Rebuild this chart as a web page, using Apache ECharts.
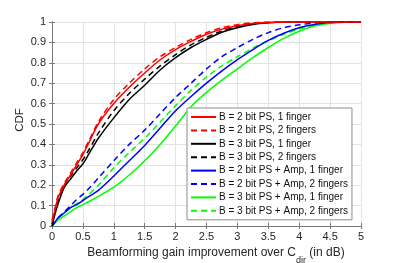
<!DOCTYPE html>
<html><head><meta charset="utf-8">
<script src="https://cdn.jsdelivr.net/npm/echarts@6/dist/echarts.min.js"></script>
<style>html,body{margin:0;padding:0;background:#fff}#c{width:402px;height:263px}</style>
</head><body><div id="c"></div>
<script>
var xs = [0,0.05,0.1,0.2,0.3,0.4,0.5,0.6,0.75,1,1.25,1.5,1.75,2,2.25,2.5,2.75,3,3.25,3.5,3.75,4,4.25,4.5,4.75,5];
var red1   = [0.02,0.08,0.14,0.20,0.25,0.30,0.35,0.41,0.50,0.60,0.68,0.75,0.815,0.865,0.905,0.94,0.965,0.982,0.993,0.998,1,1,1,1,1,1];
var red2   = [0.03,0.09,0.15,0.21,0.26,0.31,0.36,0.42,0.51,0.62,0.70,0.77,0.83,0.875,0.915,0.948,0.972,0.987,0.996,1,1,1,1,1,1,1];
var black1 = [0,0.06,0.11,0.19,0.23,0.27,0.305,0.355,0.43,0.53,0.62,0.69,0.765,0.825,0.875,0.915,0.95,0.972,0.988,0.996,1,1,1,1,1,1];
var black2 = [0.01,0.07,0.12,0.20,0.245,0.285,0.325,0.375,0.455,0.565,0.65,0.72,0.785,0.84,0.888,0.925,0.957,0.978,0.991,0.998,1,1,1,1,1,1];
var blue1  = [0,0.02,0.04,0.065,0.09,0.105,0.125,0.145,0.175,0.245,0.32,0.395,0.48,0.565,0.635,0.70,0.76,0.815,0.865,0.91,0.945,0.972,0.988,0.997,1,1];
var blue2  = [0,0.02,0.04,0.07,0.10,0.13,0.155,0.185,0.235,0.32,0.40,0.47,0.55,0.63,0.70,0.77,0.83,0.875,0.915,0.948,0.972,0.986,0.995,1,1,1];
var green1 = [0,0.015,0.03,0.05,0.07,0.09,0.105,0.12,0.145,0.19,0.25,0.32,0.40,0.49,0.585,0.655,0.715,0.77,0.825,0.875,0.92,0.955,0.98,0.993,0.999,1];
var green2 = [0,0.02,0.04,0.065,0.09,0.11,0.13,0.155,0.20,0.285,0.36,0.43,0.51,0.59,0.665,0.73,0.785,0.83,0.872,0.907,0.94,0.965,0.985,0.995,1,1];
var names = ["B = 2 bit PS, 1 finger","B = 2 bit PS, 2 fingers","B = 3 bit PS, 1 finger","B = 3 bit PS, 2 fingers","B = 2 bit PS + Amp, 1 finger","B = 2 bit PS + Amp, 2 fingers","B = 3 bit PS + Amp, 1 finger","B = 3 bit PS + Amp, 2 fingers"];
var xTicks = [0,0.5,1,1.5,2,2.5,3,3.5,4,4.5,5];
var yTicks = [0,0.1,0.2,0.3,0.4,0.5,0.6,0.7,0.8,0.9,1];

var seriesY = [red1,red2,black1,black2,blue1,blue2,green1,green2];
var colors = ['#ff0000','#ff0000','#000000','#000000','#0000ff','#0000ff','#00ff00','#00ff00'];
var dashed = [false,true,false,true,false,true,false,true];

var chart = echarts.init(document.getElementById('c'), null, {renderer:'canvas'});
var axisCol = '#7a7a7a';
var font = 'Liberation Sans, Arial, sans-serif';
var series = seriesY.map(function(ys,i){
  return {
    name: names[i], type:'line', symbol:'none', smooth:0.3,
    data: xs.map(function(x,j){return [x, ys[j]];}),
    lineStyle:{color:colors[i], width:1.5, type: dashed[i]?[6,4]:'solid'},
    itemStyle:{color:colors[i]},
    z: 10-i, animation:false
  };
});
var option = {
  animation:false,
  grid:{left:52,right:41,top:22,bottom:37},
  xAxis:[{
    type:'value', min:0, max:5, interval:0.5, position:'bottom',
    axisLine:{show:true,lineStyle:{color:axisCol,width:1}},
    axisTick:{show:true,inside:true,length:3,lineStyle:{color:axisCol}},
    axisLabel:{color:'#262626',fontSize:11,fontFamily:font,margin:5,
      formatter:function(v){return xTicks.indexOf(v)>=0?String(v):'';}},
    splitLine:{show:true,lineStyle:{color:'#e3e3e3',width:1}}
  },{
    type:'value', min:0, max:5, interval:0.5, position:'top',
    axisLine:{show:true,lineStyle:{color:axisCol,width:1}},
    axisTick:{show:true,inside:true,length:3,lineStyle:{color:axisCol}},
    axisLabel:{show:false}, splitLine:{show:false}
  }],
  yAxis:[{
    type:'value', min:0, max:1, interval:0.1, position:'left',
    axisLine:{show:true,lineStyle:{color:axisCol,width:1}},
    axisTick:{show:true,inside:true,length:3,lineStyle:{color:axisCol}},
    axisLabel:{color:'#262626',fontSize:11,fontFamily:font,margin:6,
      formatter:function(v){var r=Math.round(v*10)/10; return yTicks.indexOf(r)>=0?String(r):'';}},
    splitLine:{show:true,lineStyle:{color:'#e3e3e3',width:1}}
  },{
    type:'value', min:0, max:1, interval:0.1, position:'right',
    axisLine:{show:true,lineStyle:{color:axisCol,width:1}},
    axisTick:{show:true,inside:true,length:3,lineStyle:{color:axisCol}},
    axisLabel:{show:false}, splitLine:{show:false}
  }],
  legend:{
    orient:'vertical', left:187, top:108,
    data:names,
    itemWidth:25, itemHeight:12, itemGap:1.4,
    itemStyle:{opacity:0},
    padding:[3,4,3,3],
    backgroundColor:'#ffffff', borderColor:'#8c8c8c', borderWidth:1, borderRadius:0,
    textStyle:{color:'#111',fontSize:10,fontFamily:font,lineHeight:12,padding:[0,0,0,-2]},
    z:20
  },
  graphic:[{
    type:'text', x:216, y:247,
    style:{
      text:'{a|Beamforming gain improvement over C}{s|dir}{a| (in dB)}',
      align:'center', verticalAlign:'top',
      rich:{
        a:{fontSize:12,fontFamily:font,fill:'#262626',verticalAlign:'top'},
        s:{fontSize:9,fontFamily:font,fill:'#262626',verticalAlign:'top',padding:[9,0,0,0]}
      }
    }
  },{
    type:'text', x:20, y:120, rotation:Math.PI/2,
    style:{text:'CDF',fontSize:11.5,fontFamily:font,fill:'#262626',align:'center',verticalAlign:'middle'}
  }],
  series:series
};
chart.setOption(option);
</script></body></html>
